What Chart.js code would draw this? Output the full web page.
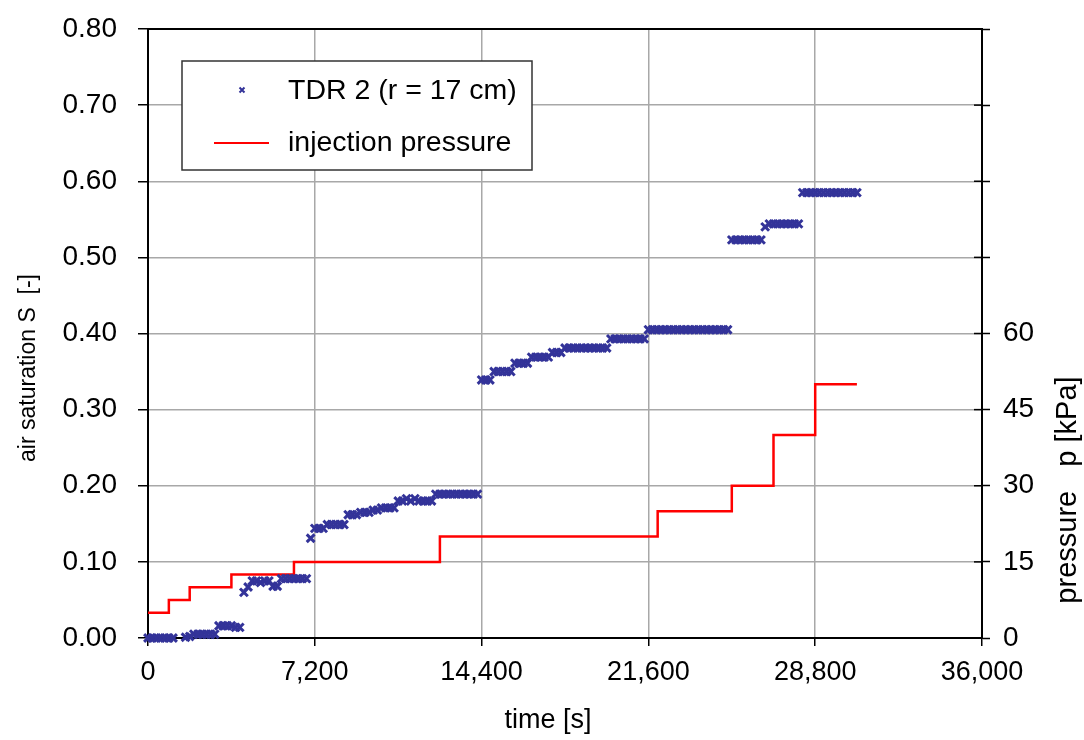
<!DOCTYPE html>
<html>
<head>
<meta charset="utf-8">
<title>air saturation / injection pressure</title>
<script src="https://cdn.jsdelivr.net/npm/chart.js@4.4.1/dist/chart.umd.min.js"></script>
<style>
  html, body { margin: 0; padding: 0; background: #fff; }
  #wrap { width: 1084px; height: 740px; }
</style>
</head>
<body>
<div id="wrap"><canvas id="chart" width="1084" height="740"></canvas></div>
<script>
// TDR 2 readings, time [s] and air saturation [-]
const tdrTime = [
  0, 180, 360, 540, 720, 900, 1080,
  1620, 1800, 1980, 2160, 2340, 2520, 2700, 2880, 3060, 3240, 3420, 3600, 3780, 3960,
  4140, 4320, 4500, 4680, 4860, 5040, 5220, 5400, 5580, 5760, 5940, 6120, 6300, 6480, 6660, 6840,
  7020, 7200, 7380, 7560, 7740, 7920, 8100, 8280, 8460, 8640, 8820, 9000, 9180, 9360, 9540, 9720, 9900,
  10080, 10260, 10440, 10620, 10800, 10980, 11160, 11340, 11520, 11700, 11880, 12060, 12240, 12420, 12600, 12780,
  12960, 13140, 13320, 13500, 13680, 13860, 14040, 14220,
  14400, 14580, 14760, 14940, 15120, 15300, 15480, 15660, 15840, 16020, 16200, 16380, 16560, 16740, 16920, 17100,
  17280, 17460, 17640, 17820, 18000, 18180, 18360, 18540, 18720, 18900, 19080, 19260, 19440, 19620, 19800, 19980,
  20160, 20340, 20520, 20700, 20880, 21060, 21240, 21420,
  21600, 21780, 21960, 22140, 22320, 22500, 22680, 22860, 23040, 23220, 23400, 23580, 23760, 23940, 24120, 24300,
  24480, 24660, 24840, 25020,
  25200, 25380, 25560, 25740, 25920, 26100, 26280, 26460, 26640, 26820, 27000, 27180, 27360, 27540, 27720, 27900, 28080,
  28260, 28440, 28620, 28800, 28980, 29160, 29340, 29520, 29700, 29880, 30060, 30240, 30420, 30600
];
const tdrSat = [
  0, 0, 0, 0, 0, 0, 0,
  0.001, 0.002, 0.005, 0.005, 0.005, 0.005, 0.005, 0.005, 0.016, 0.016, 0.016, 0.016, 0.014, 0.014,
  0.060, 0.067, 0.075, 0.075, 0.073, 0.075, 0.075, 0.068, 0.068, 0.078, 0.078, 0.078, 0.078, 0.078, 0.078, 0.078,
  0.131, 0.144, 0.144, 0.144, 0.149, 0.149, 0.149, 0.149, 0.149, 0.162, 0.162, 0.162, 0.165, 0.165, 0.165, 0.168, 0.168,
  0.171, 0.171, 0.171, 0.171, 0.180, 0.180, 0.183, 0.180, 0.183, 0.180, 0.180, 0.180, 0.180, 0.189, 0.189, 0.189,
  0.189, 0.189, 0.189, 0.189, 0.189, 0.189, 0.189, 0.189,
  0.339, 0.339, 0.339, 0.350, 0.350, 0.350, 0.350, 0.350, 0.361, 0.361, 0.361, 0.361, 0.369, 0.369, 0.369, 0.369,
  0.369, 0.375, 0.375, 0.375, 0.381, 0.381, 0.381, 0.381, 0.381, 0.381, 0.381, 0.381, 0.381, 0.381, 0.381, 0.393,
  0.393, 0.393, 0.393, 0.393, 0.393, 0.393, 0.393, 0.393,
  0.405, 0.405, 0.405, 0.405, 0.405, 0.405, 0.405, 0.405, 0.405, 0.405, 0.405, 0.405, 0.405, 0.405, 0.405, 0.405,
  0.405, 0.405, 0.405, 0.405,
  0.523, 0.523, 0.523, 0.523, 0.523, 0.523, 0.523, 0.523, 0.540, 0.544, 0.544, 0.544, 0.544, 0.544, 0.544, 0.544, 0.544,
  0.585, 0.585, 0.585, 0.585, 0.585, 0.585, 0.585, 0.585, 0.585, 0.585, 0.585, 0.585, 0.585, 0.585
];

// injection pressure steps, time [s] and p [kPa]
const pressTime = [0, 900, 1800, 3600, 6300, 12600, 22000, 25200, 27000, 28800, 30600];
const pressKpa = [5, 7.5, 10, 12.5, 15, 20, 25, 30, 40, 50, 50];

const timeRange = [0, 36000];
const satRange = [0, 0.8];
const kpaRange = [0, 120];
const kpaLabelMax = 60;

const FONT = '"Liberation Sans", Arial, sans-serif';
const BLUE = '#333399';
const RED = '#ff0000';
const GRID = '#a8a8a8';

// black box round the plot, plus the short inner ticks on the pressure axis
const frame = {
  id: 'frame',
  beforeDatasetsDraw(chart) {
    const { ctx, chartArea: a } = chart;
    ctx.save();
    ctx.strokeStyle = '#000';
    ctx.lineWidth = 2;
    ctx.strokeRect(a.left, a.top, a.right - a.left, a.bottom - a.top);
    ctx.lineWidth = 1.5;
    const y2 = chart.scales.y2;
    y2.ticks.forEach(t => {
      const py = y2.getPixelForValue(t.value);
      ctx.beginPath();
      ctx.moveTo(a.right - 8, py);
      ctx.lineTo(a.right, py);
      ctx.stroke();
    });
    ctx.restore();
  }
};

// axis titles and the boxed legend
const labels = {
  id: 'labels',
  afterDraw(chart) {
    const { ctx } = chart;
    ctx.save();
    ctx.fillStyle = '#000';
    ctx.textAlign = 'center';
    ctx.textBaseline = 'middle';

    ctx.font = '27px ' + FONT;
    ctx.fillText('time [s]', 548, 721);

    ctx.save();
    ctx.translate(29, 368);
    ctx.rotate(-Math.PI / 2);
    ctx.font = '23px ' + FONT;
    ctx.fillText('air saturation S  [-]', 0, 0);
    ctx.restore();

    ctx.save();
    ctx.translate(1068, 490);
    ctx.rotate(-Math.PI / 2);
    ctx.font = '29px ' + FONT;
    ctx.fillText('pressure   p [kPa]', 0, 0);
    ctx.restore();

    // legend
    const box = { x: 182, y: 61, w: 350, h: 109 };
    ctx.fillStyle = '#fff';
    ctx.fillRect(box.x, box.y, box.w, box.h);
    ctx.strokeStyle = '#333';
    ctx.lineWidth = 1.5;
    ctx.strokeRect(box.x, box.y, box.w, box.h);

    const ds = chart.data.datasets;
    ctx.strokeStyle = BLUE;
    ctx.lineWidth = 2;
    const mx = 242, my = 90, r = 2.5;
    ctx.beginPath();
    ctx.moveTo(mx - r, my - r); ctx.lineTo(mx + r, my + r);
    ctx.moveTo(mx - r, my + r); ctx.lineTo(mx + r, my - r);
    ctx.stroke();

    ctx.strokeStyle = RED;
    ctx.lineWidth = 2;
    ctx.beginPath();
    ctx.moveTo(214, 143);
    ctx.lineTo(269, 143);
    ctx.stroke();

    ctx.fillStyle = '#000';
    ctx.textAlign = 'left';
    ctx.font = '28.5px ' + FONT;
    ctx.fillText(ds[0].label, 288, 91);
    ctx.fillText(ds[1].label, 288, 143);
    ctx.restore();
  }
};

// fixed axis boxes so the plot sits at 148..982 x 29..638
const fixWidth = w => s => { s.width = w; s.paddingTop = 0; s.paddingBottom = 0; };

new Chart(document.getElementById('chart'), {
  type: 'scatter',
  data: {
    datasets: [
      {
        label: 'TDR 2 (r = 17 cm)',
        data: tdrTime.map((t, i) => ({ x: t, y: tdrSat[i] })),
        pointStyle: 'crossRot',
        pointRadius: 5.5,
        borderWidth: 3,
        borderColor: BLUE,
        backgroundColor: BLUE,
        showLine: false,
        clip: false,
        yAxisID: 'y'
      },
      {
        label: 'injection pressure',
        type: 'line',
        data: pressTime.map((t, i) => ({ x: t, y: pressKpa[i] })),
        stepped: 'before',
        borderColor: RED,
        borderWidth: 2.5,
        pointRadius: 0,
        fill: false,
        yAxisID: 'y2'
      }
    ]
  },
  options: {
    responsive: false,
    animation: false,
    devicePixelRatio: 1,
    layout: { padding: { top: 29, left: 0, right: 0, bottom: 0 } },
    plugins: {
      legend: { display: false },
      tooltip: { enabled: false }
    },
    scales: {
      x: {
        type: 'linear',
        position: 'bottom',
        min: timeRange[0],
        max: timeRange[1],
        ticks: {
          stepSize: 7200,
          color: '#000',
          font: { family: FONT, size: 27 },
          padding: 10,
          maxRotation: 0,
          callback: v => Number(v).toLocaleString('en-US')
        },
        grid: { color: GRID, lineWidth: 1.5, tickColor: '#000', tickLength: 8, tickWidth: 1.5 },
        border: { color: '#000', width: 2 },
        afterFit: s => { s.height = 102; }
      },
      y: {
        position: 'left',
        min: satRange[0],
        max: satRange[1],
        ticks: {
          stepSize: 0.1,
          color: '#000',
          font: { family: FONT, size: 28 },
          padding: 21,
          callback: v => Number(v).toFixed(2)
        },
        grid: { color: GRID, lineWidth: 1.5, tickColor: '#000', tickLength: 10, tickWidth: 1.5 },
        border: { color: '#000', width: 2 },
        afterFit: fixWidth(148)
      },
      y2: {
        position: 'right',
        min: kpaRange[0],
        max: kpaRange[1],
        ticks: {
          stepSize: 15,
          color: '#000',
          font: { family: FONT, size: 28 },
          padding: 13,
          callback: v => (v <= kpaLabelMax ? String(v) : '')
        },
        grid: { drawOnChartArea: false, tickColor: '#000', tickLength: 8, tickWidth: 1.5 },
        border: { color: '#000', width: 2 },
        afterFit: fixWidth(102)
      }
    }
  },
  plugins: [frame, labels]
});
</script>
</body>
</html>
